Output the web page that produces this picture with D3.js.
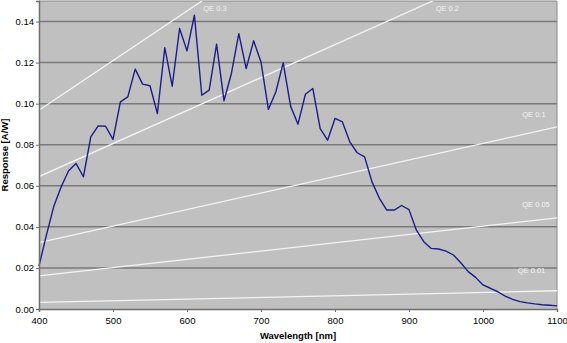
<!DOCTYPE html>
<html>
<head>
<meta charset="utf-8">
<script src="https://cdn.jsdelivr.net/npm/d3@7"></script>
<style>
  html, body { margin: 0; padding: 0; background: #ffffff; }
  svg { display: block; }
  text { font-family: "Liberation Sans", Arial, sans-serif; }
</style>
</head>
<body>
<svg id="chart" width="567" height="343"></svg>
<script>
// ---- data ----
const wavelengths = d3.range(400, 1101, 10);
const response = [
  0.021, 0.036, 0.050, 0.0595, 0.0673, 0.0709, 0.0644, 0.0838, 0.0892, 0.089,
  0.0826, 0.1009, 0.1033, 0.1168, 0.1095, 0.1087, 0.0952, 0.1273, 0.1085, 0.1366,
  0.1257, 0.1431, 0.1041, 0.1066, 0.129, 0.1014, 0.1147, 0.1341, 0.1171, 0.1306,
  0.1203, 0.0972, 0.1057, 0.1199, 0.0988, 0.090, 0.1046, 0.1074, 0.0879, 0.0822,
  0.0928, 0.0911, 0.0814, 0.0761, 0.0741, 0.0619, 0.0539, 0.0482, 0.0482, 0.0504,
  0.0484, 0.0384, 0.0328, 0.0295, 0.0292, 0.0282, 0.0263, 0.0225, 0.0182, 0.0154,
  0.0117, 0.0101, 0.0084, 0.0063, 0.0047, 0.0036, 0.0030, 0.0025, 0.0021, 0.0018,
  0.0015
];
const qeLabels = ["QE 0.3", "QE 0.2", "QE 0.1", "QE 0.05", "QE 0.01"];
const qeAtStart = [0.0968, 0.0645, 0.0323, 0.0161, 0.0032]; // response at 400 nm
const qeAtEnd   = [0.266, 0.177, 0.0887, 0.0444, 0.0089];   // response at 1100 nm
const qeEnds = [400, 1100];
const xTicks = [400, 500, 600, 700, 800, 900, 1000, 1100];
const yTicks = [0, 0.02, 0.04, 0.06, 0.08, 0.10, 0.12, 0.14];

// label anchor positions (wavelength, response)
const qeLabelPos = [[622, 0.1451], [936, 0.1451], [1053, 0.0934], [1053, 0.0498], [1047, 0.0174]];

// ---- layout ----
const svg = d3.select("#chart");
const pLeft = 39, pRight = 557, pTop = 1, pBottom = 309;

const x = d3.scaleLinear().domain([400, 1100]).range([pLeft, pRight]);
const y = d3.scaleLinear().domain([0, 0.15]).range([pBottom, pTop]);

// plot background
svg.append("rect")
  .attr("x", pLeft).attr("y", pTop)
  .attr("width", pRight - pLeft).attr("height", pBottom - pTop)
  .attr("fill", "#c0c0c0");

svg.append("defs").append("clipPath").attr("id", "clip")
  .append("rect")
  .attr("x", pLeft).attr("y", pTop)
  .attr("width", pRight - pLeft).attr("height", pBottom - pTop);

// gridlines
svg.append("g").selectAll("line")
  .data(yTicks.filter(d => d > 0))
  .join("line")
  .attr("x1", pLeft).attr("x2", pRight)
  .attr("y1", d => y(d)).attr("y2", d => y(d))
  .attr("stroke", "#7a7a7a").attr("stroke-width", 1.5);

// top & right border
svg.append("line").attr("x1", pLeft).attr("x2", pRight).attr("y1", pTop).attr("y2", pTop)
  .attr("stroke", "#8a8a8a").attr("stroke-width", 1);
svg.append("line").attr("x1", pRight).attr("x2", pRight).attr("y1", pTop).attr("y2", pBottom)
  .attr("stroke", "#8a8a8a").attr("stroke-width", 1);

// QE lines
const qeG = svg.append("g").attr("clip-path", "url(#clip)");
qeLabels.forEach((lab, i) => {
  qeG.append("line")
    .attr("x1", x(qeEnds[0])).attr("y1", y(qeAtStart[i]))
    .attr("x2", x(qeEnds[1])).attr("y2", y(qeAtEnd[i]))
    .attr("stroke", "#f4f4f4").attr("stroke-width", 1.3);
});
svg.append("g").selectAll("text")
  .data(qeLabels)
  .join("text")
  .attr("x", (d, i) => x(qeLabelPos[i][0]))
  .attr("y", (d, i) => y(qeLabelPos[i][1]))
  .attr("font-size", "7.5px")
  .attr("fill", "#f4f4f4")
  .text(d => d);

// response curve
const line = d3.line()
  .x((d, i) => x(wavelengths[i]))
  .y(d => y(d));
svg.append("path")
  .datum(response)
  .attr("d", line)
  .attr("fill", "none")
  .attr("stroke", "#1c1c8c")
  .attr("stroke-width", 1.4)
  .attr("stroke-linejoin", "round");

// axes
const xAxis = d3.axisBottom(x).tickValues(xTicks).tickSize(3).tickPadding(5).tickFormat(d3.format("d"));
const gx = svg.append("g").attr("transform", `translate(0,${pBottom})`).call(xAxis);
gx.select(".domain").attr("stroke", "#6e6e6e").attr("stroke-width", 1.5);
gx.selectAll(".tick line").attr("stroke", "#6e6e6e");
gx.selectAll(".tick text").attr("font-size", "9.5px").attr("fill", "#000")
  .attr("font-family", "'Liberation Sans', Arial, sans-serif");

const yAxis = d3.axisLeft(y).tickValues(yTicks).tickSize(3).tickPadding(2).tickFormat(d3.format(".2f"));
const gy = svg.append("g").attr("transform", `translate(${pLeft},0)`).call(yAxis);
gy.select(".domain").attr("stroke", "#6e6e6e").attr("stroke-width", 1.5);
gy.selectAll(".tick line").attr("stroke", "#6e6e6e");
gy.selectAll(".tick text").attr("font-size", "9.5px").attr("fill", "#000")
  .attr("font-family", "'Liberation Sans', Arial, sans-serif");

// axis titles
svg.append("text")
  .attr("x", (pLeft + pRight) / 2).attr("y", 339)
  .attr("text-anchor", "middle")
  .attr("font-size", "9.5px").attr("font-weight", "bold")
  .text("Wavelength [nm]");
svg.append("text")
  .attr("transform", `translate(8,${(pTop + pBottom) / 2}) rotate(-90)`)
  .attr("text-anchor", "middle")
  .attr("font-size", "9.5px").attr("font-weight", "bold")
  .text("Response [A/W]");
</script>
</body>
</html>
